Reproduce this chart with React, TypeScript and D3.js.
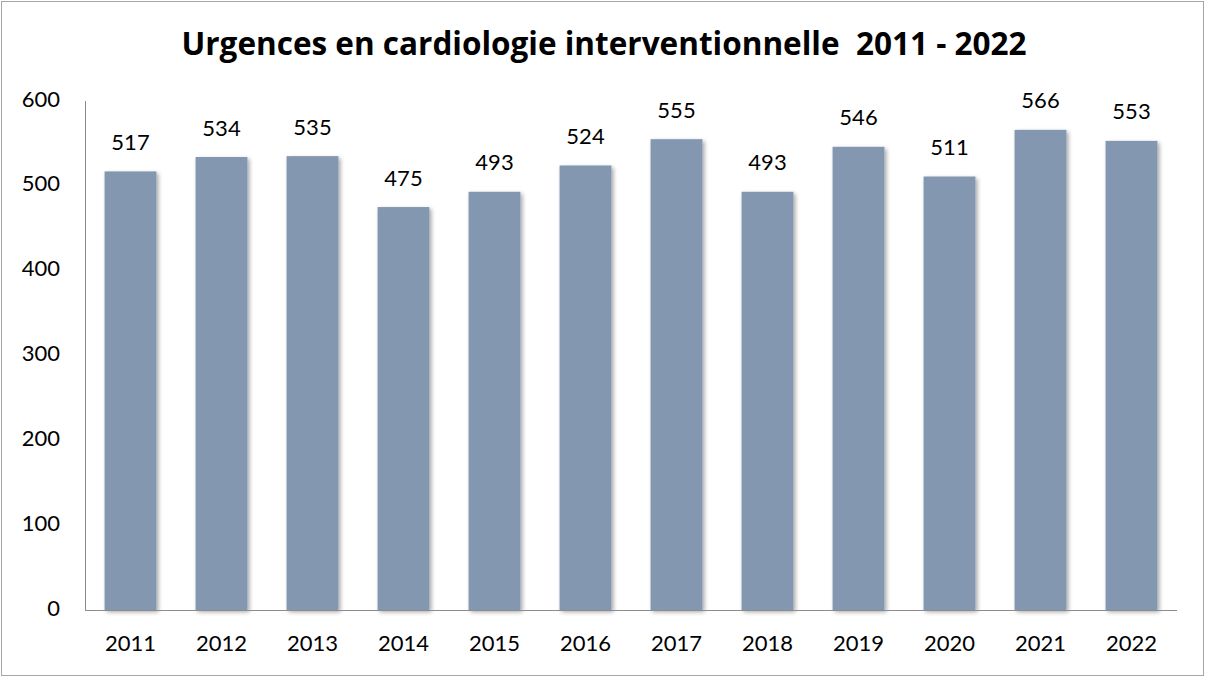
import { useRef, useEffect } from "react";
import * as d3 from "d3";

const YEARS = ["2011", "2012", "2013", "2014", "2015", "2016", "2017", "2018", "2019", "2020", "2021", "2022"];
const URGENCES = [517, 534, 535, 475, 493, 524, 555, 493, 546, 511, 566, 553];
const Y_TICKS = [0, 100, 200, 300, 400, 500, 600];
const TITLE = "Urgences en cardiologie interventionnelle  2011 - 2022";

const W = 1205;
const H = 677;
const FONT = "Lato, 'Open Sans', sans-serif";
const TITLE_FONT = "'Open Sans', Lato, sans-serif";

export default function App() {
  const svgRef = useRef<SVGSVGElement>(null);

  useEffect(() => {
    const svg = d3.select(svgRef.current);
    svg.selectAll("*").remove();

    const left = 85;
    const right = 1177;
    const top = 101;
    const bottom = 610;

    const x = d3.scaleBand<string>().domain(YEARS).range([left, right]).paddingInner(0.43).paddingOuter(0.215);
    const y = d3.scaleLinear().domain([0, 600]).range([bottom, top]);

    // outer frame
    svg.append("rect")
      .attr("x", 1.5).attr("y", 1.5)
      .attr("width", W - 3).attr("height", H - 3)
      .attr("fill", "#fff")
      .attr("stroke", "#a6a6a6")
      .attr("stroke-width", 1);

    const defs = svg.append("defs");
    const f = defs.append("filter").attr("id", "shadow").attr("x", "-20%").attr("y", "-20%").attr("width", "140%").attr("height", "140%");
    f.append("feDropShadow")
      .attr("dx", 2).attr("dy", 2).attr("stdDeviation", 2)
      .attr("flood-color", "#000").attr("flood-opacity", 0.35);

    svg.append("text")
      .attr("x", 604)
      .attr("y", 47)
      .attr("text-anchor", "middle")
      .attr("dominant-baseline", "middle")
      .attr("font-family", TITLE_FONT)
      .attr("font-weight", 700)
      .attr("font-size", 31.5)
      .attr("fill", "#000")
      .style("white-space", "pre")
      .text(TITLE);

    // bars
    svg.append("g")
      .selectAll("rect")
      .data(URGENCES)
      .join("rect")
      .attr("x", (_, i) => x(YEARS[i])!)
      .attr("y", (d) => y(d))
      .attr("width", x.bandwidth())
      .attr("height", (d) => bottom - y(d))
      .attr("fill", "#8497b0")
      .attr("filter", "url(#shadow)");

    // value labels
    svg.append("g")
      .selectAll("text")
      .data(URGENCES)
      .join("text")
      .attr("x", (_, i) => x(YEARS[i])! + x.bandwidth() / 2)
      .attr("y", (d) => y(d) - 27)
      .attr("text-anchor", "middle")
      .attr("dominant-baseline", "middle")
      .attr("font-family", FONT)
      .attr("font-size", 22)
      .attr("fill", "#000")
      .text((d) => d);

    // axes lines
    svg.append("line")
      .attr("x1", left + 0.5).attr("x2", left + 0.5)
      .attr("y1", top).attr("y2", bottom)
      .attr("stroke", "#8c8c8c").attr("stroke-width", 1);
    svg.append("line")
      .attr("x1", left).attr("x2", right)
      .attr("y1", bottom + 0.5).attr("y2", bottom + 0.5)
      .attr("stroke", "#8c8c8c").attr("stroke-width", 1);

    // y tick labels
    svg.append("g")
      .selectAll("text")
      .data(Y_TICKS)
      .join("text")
      .attr("x", 60)
      .attr("y", (d) => y(d))
      .attr("text-anchor", "end")
      .attr("dominant-baseline", "middle")
      .attr("font-family", FONT)
      .attr("font-size", 22)
      .attr("fill", "#000")
      .text((d) => d);

    // x tick labels
    svg.append("g")
      .selectAll("text")
      .data(YEARS)
      .join("text")
      .attr("x", (d) => x(d)! + x.bandwidth() / 2)
      .attr("y", 645)
      .attr("text-anchor", "middle")
      .attr("dominant-baseline", "middle")
      .attr("font-family", FONT)
      .attr("font-size", 22)
      .attr("fill", "#000")
      .text((d) => d);
  }, []);

  return (
    <svg
      ref={svgRef}
      width={W}
      height={H}
      style={{ position: "absolute", left: 0, top: 0, display: "block" }}
    />
  );
}
